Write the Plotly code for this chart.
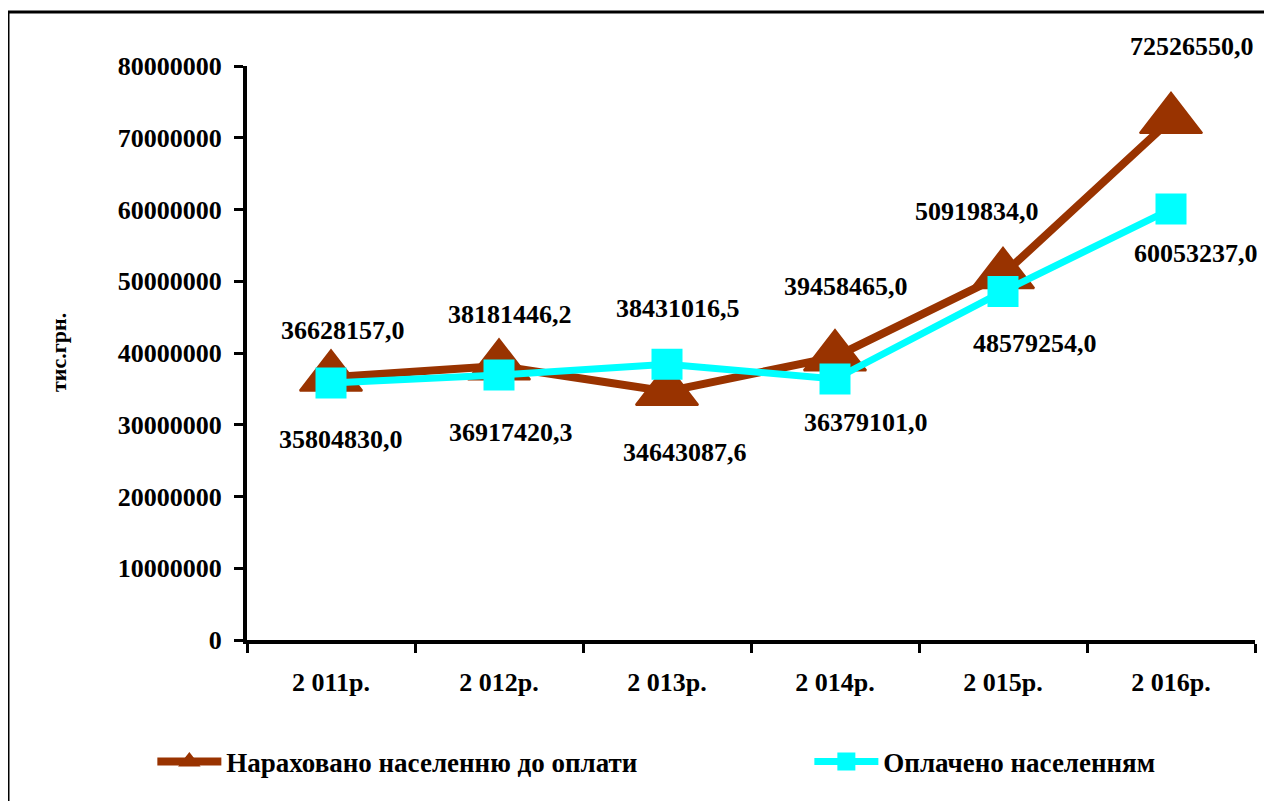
import plotly.graph_objects as go

categories = ["2 011р.", "2 012р.", "2 013р.", "2 014р.", "2 015р.", "2 016р."]
charged = [36628157.0, 38181446.2, 34643087.6, 39458465.0, 50919834.0, 72526550.0]
paid = [35804830.0, 36917420.3, 38431016.5, 36379101.0, 48579254.0, 60053237.0]
charged_name = "Нараховано населенню до оплати"
paid_name = "Оплачено населенням"
y_ticks = [0, 10000000, 20000000, 30000000, 40000000, 50000000, 60000000, 70000000, 80000000]

# label offsets (pixels) – style only
charged_shift = [(12, 47), (11, 52), (18, -61), (11, 70), (-26, 63), (21, 73)]
paid_shift = [(10, -56), (12, -57), (11, 56), (31, -44), (32, -52), (25, -44)]

FONT = "Liberation Serif, Times New Roman, serif"
BROWN = "#993300"
CYAN = "#00FFFF"

def fmt(v):
    return f"{v:.1f}".replace(".", ",")

fig = go.Figure()
fig.add_trace(go.Scatter(
    x=categories, y=charged, name=charged_name, mode="lines+markers", legend="legend",
    line=dict(color=BROWN, width=8),
    marker=dict(symbol="triangle-up", size=54, color=BROWN, line=dict(color=BROWN, width=2)),
))
fig.add_trace(go.Scatter(
    x=categories, y=paid, name=paid_name, mode="lines+markers", legend="legend2",
    line=dict(color=CYAN, width=7),
    marker=dict(symbol="square", size=29, color=CYAN, line=dict(color=CYAN, width=2)),
))

annotations = []
for c, v, (dx, dy) in zip(categories, charged, charged_shift):
    annotations.append(dict(x=c, y=v, text=fmt(v), showarrow=False, xshift=dx, yshift=dy,
                            font=dict(family=FONT, size=26, color="black", weight="bold")))
for c, v, (dx, dy) in zip(categories, paid, paid_shift):
    annotations.append(dict(x=c, y=v, text=fmt(v), showarrow=False, xshift=dx, yshift=dy,
                            font=dict(family=FONT, size=26, color="black", weight="bold")))
annotations.append(dict(x=-0.1875, y=0.5, xref="paper", yref="paper", text="тис.грн.",
                        textangle=-90, showarrow=False, xanchor="center", yanchor="middle",
                        font=dict(family=FONT, size=22, color="black", weight="bold")))

legend_style = dict(orientation="h", y=-0.2125, xanchor="left", yanchor="middle",
                    itemwidth=64, font=dict(family=FONT, size=27, color="black", weight="bold"),
                    bgcolor="rgba(0,0,0,0)")

fig.update_layout(
    width=1264, height=793,
    margin=dict(l=239, r=17, t=58, b=161, autoexpand=False),
    paper_bgcolor="white", plot_bgcolor="white",
    font=dict(family=FONT, size=26, color="black", weight="bold"),
    showlegend=True,
    legend=dict(x=-0.0939, **legend_style),
    legend2=dict(x=0.5579, **legend_style),
    annotations=annotations,
    shapes=[dict(type="rect", xref="paper", yref="paper", x0=-0.2371, x1=1.03, y0=-0.32, y1=1.094,
                 line=dict(color="black", width=3), layer="below")],
)
fig.update_xaxes(
    type="category", range=[-0.5, 5.5], showline=True, linewidth=4, linecolor="black",
    ticks="outside", tickson="boundaries", ticklen=9, tickwidth=3, tickcolor="black",
    showgrid=False, zeroline=False, ticklabelstandoff=16,
    tickfont=dict(family=FONT, size=26, color="black", weight="bold"),
)
fig.update_yaxes(
    range=[0, 80000000], tickvals=y_ticks, ticktext=[str(t) for t in y_ticks],
    showline=True, linewidth=4, linecolor="black",
    ticks="outside", ticklen=9, tickwidth=3, tickcolor="black",
    showgrid=False, zeroline=False, ticklabelstandoff=7,
    tickfont=dict(family=FONT, size=26, color="black", weight="bold"),
)

fig.write_html("out.html")
